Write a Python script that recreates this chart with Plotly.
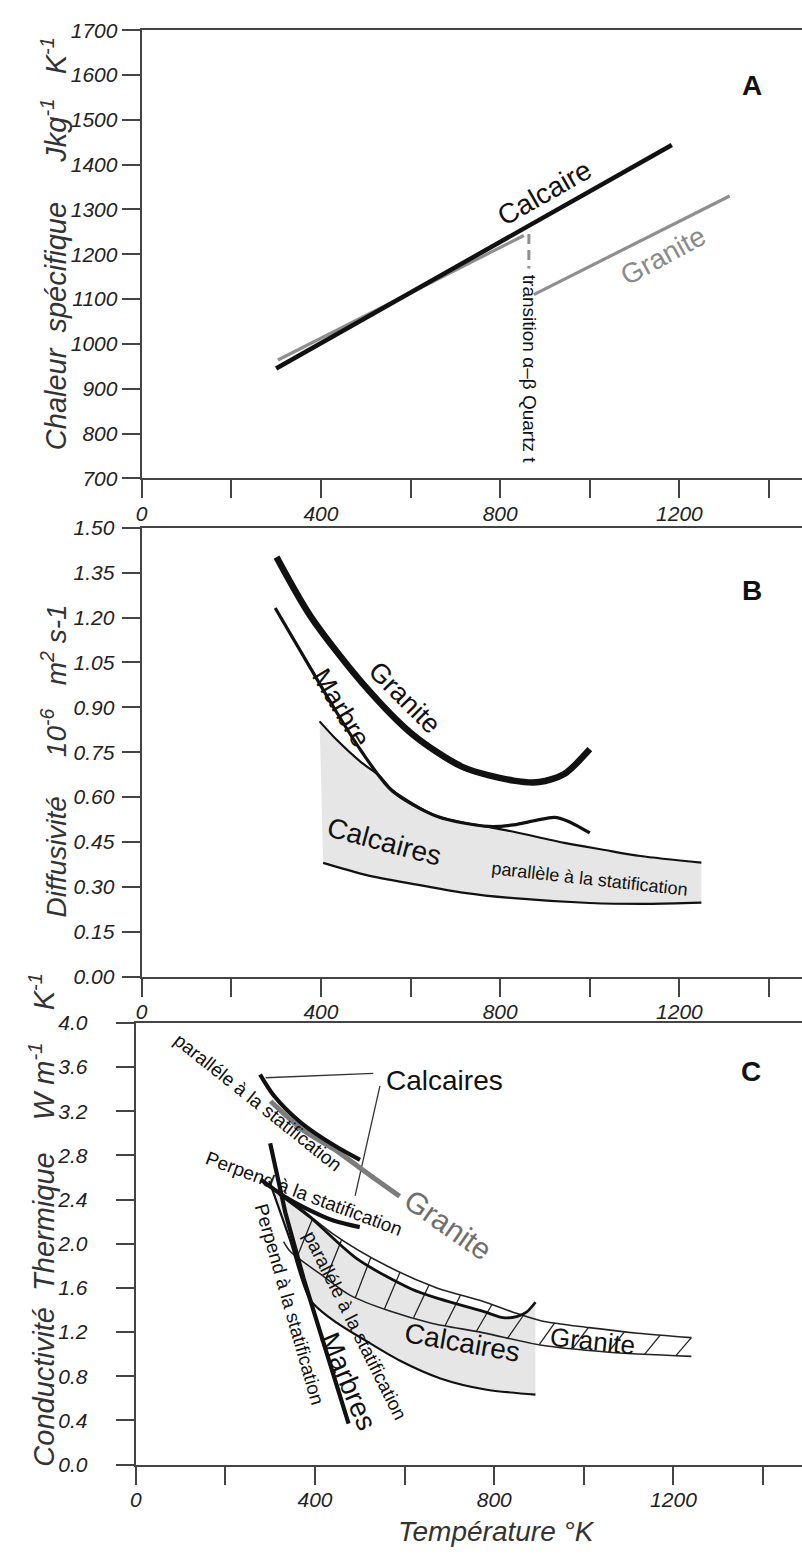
import plotly.graph_objects as go

FONT = "Arial, 'Liberation Sans', Helvetica, sans-serif"
W, H = 802, 1561

# ---------------- Panel A : chaleur spécifique ----------------
A_calcaire_T = [300, 1183]
A_calcaire_v = [945, 1444]
A_granite_lo_T = [304, 853]
A_granite_lo_v = [964, 1242]
A_granite_hi_T = [875, 1312]
A_granite_hi_v = [1110, 1330]
A_quartz_T = [864, 864]
A_quartz_v = [1245, 1168]
A_yticks = [700, 800, 900, 1000, 1100, 1200, 1300, 1400, 1500, 1600, 1700]

# ---------------- Panel B : diffusivité ----------------
B_granite_T = [301, 377, 490, 604, 717, 830, 887, 943, 1000]
B_granite_v = [1.402, 1.204, 0.985, 0.81, 0.70, 0.655, 0.65, 0.677, 0.76]
B_marbre_T = [298, 377, 434, 490, 558, 660, 774, 830, 880, 921, 950, 1000]
B_marbre_v = [1.232, 1.03, 0.886, 0.754, 0.622, 0.535, 0.502, 0.507, 0.522, 0.532, 0.52, 0.48]
B_calc_up_T = [397, 434, 490, 530, 558, 660, 774, 830, 943, 1030, 1113, 1249]
B_calc_up_v = [0.853, 0.793, 0.716, 0.672, 0.625, 0.535, 0.500, 0.484, 0.447, 0.424, 0.403, 0.381]
B_calc_lo_T = [405, 500, 604, 720, 830, 1000, 1130, 1249]
B_calc_lo_v = [0.38, 0.34, 0.31, 0.28, 0.262, 0.246, 0.243, 0.247]
B_yticks = [0.0, 0.15, 0.30, 0.45, 0.60, 0.75, 0.90, 1.05, 1.20, 1.35, 1.50]

# ---------------- Panel C : conductivité ----------------
C_calc_par_T = [277.5, 308.5, 367.6, 441.4, 500.5]
C_calc_par_v = [3.533, 3.34, 3.10, 2.894, 2.76]
C_gran_grey_T = [301, 370, 441, 471, 530, 589]
C_gran_grey_v = [3.29, 3.04, 2.86, 2.775, 2.60, 2.43]
C_calc_perp_T = [279, 331, 390, 441, 500]
C_calc_perp_v = [2.58, 2.43, 2.30, 2.21, 2.15]
C_marbres_T = [300, 334, 375, 427, 475]
C_marbres_v = [2.91, 2.28, 1.68, 1.01, 0.37]
C_gran_up_T = [340, 440, 560, 672, 774, 842, 906, 1012, 1120, 1240]
C_gran_up_v = [2.42, 2.09, 1.80, 1.60, 1.48, 1.38, 1.30, 1.24, 1.19, 1.15]
C_gran_lo_T = [330, 345, 419, 480, 567, 660, 774, 906, 1050, 1240]
C_gran_lo_v = [2.02, 1.93, 1.705, 1.53, 1.39, 1.28, 1.195, 1.08, 1.02, 0.98]
C_calc_up_T = [320, 389, 495, 615, 678, 774, 820, 850, 872, 892]
C_calc_up_v = [2.45, 2.24, 1.86, 1.59, 1.50, 1.39, 1.33, 1.34, 1.38, 1.47]
C_calc_lo_T = [298, 343, 390, 450, 510, 590, 680, 780, 892]
C_calc_lo_v = [2.57, 2.05, 1.49, 1.28, 1.13, 0.94, 0.78, 0.68, 0.634]
C_hatch_T_lo = [360, 425, 490, 555, 620, 690, 760, 830, 900, 975, 1055, 1135, 1205]
C_hatch_v_lo = [1.88, 1.69, 1.51, 1.41, 1.33, 1.255, 1.205, 1.145, 1.085, 1.05, 1.02, 0.995, 0.985]
C_hatch_T_hi = [395, 460, 525, 590, 655, 725, 795, 865, 935, 1010, 1090, 1170, 1240]
C_hatch_v_hi = [2.23, 2.04, 1.88, 1.745, 1.63, 1.535, 1.45, 1.35, 1.283, 1.24, 1.20, 1.17, 1.15]
C_leader1_T = [530, 290]
C_leader1_v = [3.542, 3.503]
C_leader2_T = [545, 489.5]
C_leader2_v = [3.429, 2.433]
C_yticks = [0.0, 0.4, 0.8, 1.2, 1.6, 2.0, 2.4, 2.8, 3.2, 3.6, 4.0]

X_ticks = [0, 200, 400, 600, 800, 1000, 1200, 1400]
X_labels = ["0", "", "400", "", "800", "", "1200", ""]

fig = go.Figure()
AX = {"A": ("x", "y"), "B": ("x2", "y2"), "C": ("x3", "y3")}


def curve(p, xs, ys, color="#111111", width=2, shape="spline", dash=None):
    xa, ya = AX[p]
    fig.add_trace(go.Scatter(x=xs, y=ys, xaxis=xa, yaxis=ya, mode="lines",
                             line=dict(color=color, width=width, shape=shape,
                                       smoothing=0.8, dash=dash),
                             hoverinfo="skip", showlegend=False))


def band(p, xu, yu, xl, yl, color):
    xa, ya = AX[p]
    xs = list(xu) + list(xl)[::-1]
    ys = list(yu) + list(yl)[::-1]
    fig.add_trace(go.Scatter(x=xs, y=ys, xaxis=xa, yaxis=ya, mode="lines",
                             fill="toself", fillcolor=color,
                             line=dict(width=0, color=color, shape="linear"),
                             hoverinfo="skip", showlegend=False))


# Panel A
curve("A", A_granite_lo_T, A_granite_lo_v, "#8f8f8f", 3.2, "linear")
curve("A", A_calcaire_T, A_calcaire_v, "#111111", 4.5, "linear")
curve("A", A_granite_hi_T, A_granite_hi_v, "#8f8f8f", 3.2, "linear")
curve("A", A_quartz_T, A_quartz_v, "#8f8f8f", 3, "linear", dash="10px,6px")

# Panel B
band("B", B_calc_up_T, B_calc_up_v, B_calc_lo_T, B_calc_lo_v, "#e6e6e6")
curve("B", B_calc_lo_T, B_calc_lo_v, "#111111", 2.2)
curve("B", B_calc_up_T, B_calc_up_v, "#111111", 2.2)
curve("B", B_marbre_T, B_marbre_v, "#111111", 3.2)
curve("B", B_granite_T, B_granite_v, "#111111", 6.5)

# Panel C
band("C", C_calc_up_T, C_calc_up_v, C_calc_lo_T, C_calc_lo_v, "#e6e6e6")
hx, hy = [], []
for t0, v0, t1, v1 in zip(C_hatch_T_lo, C_hatch_v_lo, C_hatch_T_hi, C_hatch_v_hi):
    hx += [t0, t1, None]
    hy += [v0, v1, None]
curve("C", hx, hy, "#222222", 1.3, "linear")
curve("C", C_gran_up_T, C_gran_up_v, "#222222", 1.6)
curve("C", C_gran_lo_T, C_gran_lo_v, "#222222", 1.6)
curve("C", C_calc_lo_T, C_calc_lo_v, "#111111", 2.2)
curve("C", C_calc_up_T, C_calc_up_v, "#111111", 2.8)
curve("C", C_leader1_T, C_leader1_v, "#333333", 1.3, "linear")
curve("C", C_leader2_T, C_leader2_v, "#333333", 1.3, "linear")
curve("C", C_gran_grey_T, C_gran_grey_v, "#7c7c7c", 5)
curve("C", C_calc_par_T, C_calc_par_v, "#111111", 4.2)
curve("C", C_calc_perp_T, C_calc_perp_v, "#111111", 4.2)
curve("C", C_marbres_T, C_marbres_v, "#111111", 4.2, "linear")

ann = []


def text(p, x, y, s, size=20, angle=0, color="#111111", bold=False, italic=False):
    xa, ya = AX[p]
    ann.append(dict(x=x, y=y, xref=xa, yref=ya, text=s, showarrow=False,
                    textangle=angle, xanchor="center", yanchor="middle",
                    font=dict(family=FONT, size=size, color=color,
                              weight="bold" if bold else "normal",
                              style="italic" if italic else "normal")))


def ptext(x, y, s, size=27, angle=0):
    ann.append(dict(x=x / W, y=1 - y / H, xref="paper", yref="paper", text=s,
                    showarrow=False, textangle=angle, xanchor="center", yanchor="middle",
                    font=dict(family=FONT, size=size, color="#333333", style="italic")))


# Panel A texts
text("A", 1363, 1576, "A", 28, bold=True)
text("A", 900, 1338, "Calcaire", 28, -29.6)
text("A", 1164, 1198, "Granite", 28, -28.5, color="#8a8a8a")
text("A", 866, 945, "transition α–β Quartz t", 19, 90)

# Panel B texts
text("B", 1363, 1.29, "B", 28, bold=True)
text("B", 587, 0.93, "Granite", 27, 45)
text("B", 445, 0.897, "Marbre", 27, 59)
text("B", 541, 0.452, "Calcaires", 28, 15)
text("B", 1000, 0.326, "parallèle à la statification", 18, 6.3)

# Panel C texts
text("C", 1374, 3.56, "C", 28, bold=True)
text("C", 689, 3.474, "Calcaires", 28)
text("C", 273, 3.28, "paralléle à la statification", 19, 38.5)
text("C", 375, 2.457, "Perpend à la statification", 19, 20.5)
text("C", 696, 2.174, "Granite", 30, 35, color="#6f6f6f")
text("C", 343, 1.448, "Perpend à la statification", 19, 74)
text("C", 489.5, 1.259, "paralléle à la statification", 19, 63.5)
text("C", 474.6, 0.753, "Marbres", 28, 67)
text("C", 729, 1.110, "Calcaires", 28, 10)
text("C", 1019, 1.116, "Granite", 26, 6)

# Axis titles
ptext(48, 235, "Chaleur&nbsp; spécifique&nbsp;&nbsp;&nbsp;&nbsp; Jkg<sup>-1</sup>&nbsp;&nbsp; K<sup>-1</sup>", 29, -90)
ptext(48, 760, "Diffusivité&nbsp;&nbsp;&nbsp;&nbsp; 10<sup>-6</sup>&nbsp;&nbsp; m<sup>2</sup> s-1", 28, -90)
ptext(36, 1226, "Conductivité&nbsp; Thermique&nbsp;&nbsp;&nbsp; W m<sup>-1</sup>&nbsp;&nbsp;&nbsp; K<sup>-1</sup>", 29, -90)
ptext(494, 1542, "Température °K", 28, 0)

tickfont = dict(family=FONT, size=21, color="#222222", style="italic")
common = dict(showgrid=False, zeroline=False, showline=True, linecolor="#444444",
              linewidth=2, ticks="outside", ticklen=18, tickwidth=1.5,
              tickcolor="#444444", tickfont=tickfont)


def xax(x0, anchor):
    return dict(domain=[x0 / W, 1], range=[0, (W - x0) / 0.4515], anchor=anchor,
                tickmode="array", tickvals=X_ticks, ticktext=X_labels,
                mirror=True, ticklabelstandoff=-3, **common)


def yax(top, bottom, rng, vals, fmt, anchor, standoff):
    return dict(domain=[1 - bottom / H, 1 - top / H], range=rng, anchor=anchor,
                tickmode="array", tickvals=vals, ticktext=[fmt.format(v) for v in vals],
                ticklabelstandoff=standoff, **common)


fig.update_layout(
    width=W, height=H, margin=dict(l=0, r=0, t=0, b=0),
    paper_bgcolor="white", plot_bgcolor="white", showlegend=False,
    xaxis=xax(136.7, "y"),
    yaxis=yax(18.5, 473.3, [700, 1700], A_yticks, "{:.0f}", "x", 0),
    xaxis2=xax(136.7, "y2"),
    yaxis2=yax(523.5, 979, [0, 1.5], B_yticks, "{:.2f}", "x2", 3),
    xaxis3=xax(130.7, "y3"),
    yaxis3=yax(1026, 1474.3, [0, 4.0], C_yticks, "{:.1f}", "x3", 24),
    annotations=ann,
)

fig.write_html("out.html")
